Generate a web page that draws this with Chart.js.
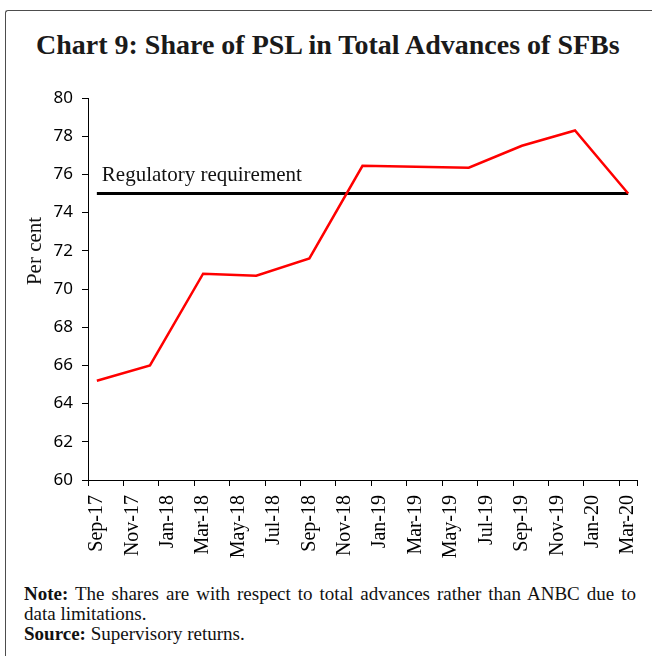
<!DOCTYPE html>
<html>
<head>
<meta charset="utf-8">
<script src="https://cdn.jsdelivr.net/npm/chart.js@4.4.1/dist/chart.umd.min.js"></script>
<style>
  html, body { margin: 0; padding: 0; background: #fff; }
  #page { position: relative; width: 652px; height: 656px; overflow: hidden;
          font-family: "Liberation Serif", serif; color: #111; }
  #frame { position: absolute; left: 5px; top: 10px; right: -10px; bottom: -10px;
           border-top: 1.5px solid #4d4d4d; border-left: 1.5px solid #4d4d4d;
           border-top-left-radius: 3px; }
  #title { position: absolute; left: 36px; top: 31px; font-size: 28px; line-height: 28px;
           font-weight: bold; white-space: nowrap; color: #1a1a1a; }
  #chartbox { position: absolute; left: 0; top: 0; width: 652px; height: 560px; }
  .note { position: absolute; left: 24px; width: 612px; font-size: 19px; line-height: 20px; white-space: nowrap; }
  .just { text-align: justify; text-align-last: justify; }
</style>
</head>
<body>
<div id="page">
  <div id="frame"></div>
  <div id="title">Chart 9: Share of PSL in Total Advances of SFBs</div>
  <div id="chartbox"><canvas id="c"></canvas></div>
  <div class="note just" style="top:584px"><b>Note:</b> The shares are with respect to total advances rather than ANBC due to</div>
  <div class="note" style="top:604px">data limitations.</div>
  <div class="note" style="top:624px"><b>Source:</b> Supervisory returns.</div>
</div>
<script>
// ── data ──────────────────────────────────────────────────────────────────────
// monthly category axis, every other month labelled
var months = ["Sep-17","Oct-17","Nov-17","Dec-17","Jan-18","Feb-18","Mar-18","Apr-18",
  "May-18","Jun-18","Jul-18","Aug-18","Sep-18","Oct-18","Nov-18","Dec-18","Jan-19",
  "Feb-19","Mar-19","Apr-19","May-19","Jun-19","Jul-19","Aug-19","Sep-19","Oct-19",
  "Nov-19","Dec-19","Jan-20","Feb-20","Mar-20"];
// quarterly observations (per cent)
var quarters = ["Sep-17","Dec-17","Mar-18","Jun-18","Sep-18","Dec-18","Mar-19","Jun-19","Sep-19","Dec-19","Mar-20"];
var pslShare = [65.2, 66.0, 70.8, 70.7, 71.6, 76.45, 76.4, 76.35, 77.5, 78.3, 75.0];
var REQUIREMENT = 75;
var REQ_LABEL = "Regulatory requirement";
var Y_TITLE = "Per cent";

// ── helpers ───────────────────────────────────────────────────────────────────
function points(keys, vals) {
  return keys.map(function (k, i) { return { x: k, y: vals[i] }; });
}

// text annotations: requirement label and the y-axis title
var annotate = {
  id: "annotate",
  afterDatasetsDraw: function (chart) {
    var xs = chart.scales.x, ys = chart.scales.y, ctx = chart.ctx, area = chart.chartArea;
    ctx.save();
    ctx.fillStyle = "#111";
    ctx.font = '21px "Liberation Serif"';
    ctx.textBaseline = "alphabetic";
    ctx.textAlign = "left";
    ctx.fillText(REQ_LABEL, xs.getPixelForValue(0) + 5, ys.getPixelForValue(REQUIREMENT) - 13);
    ctx.translate(area.left - 47.5, area.top + 153);
    ctx.rotate(-Math.PI / 2);
    ctx.textAlign = "center";
    ctx.fillText(Y_TITLE, 0, 0);
    ctx.restore();
  }
};

new Chart(document.getElementById("c").getContext("2d"), {
  type: "line",
  data: {
    labels: months,
    datasets: [
      { label: "PSL share", data: points(quarters, pslShare), borderColor: "#ff0000",
        borderWidth: 2.5, pointRadius: 0, tension: 0, order: 0 },
      { label: REQ_LABEL,
        data: points([quarters[0], quarters[quarters.length - 1]], [REQUIREMENT, REQUIREMENT]),
        borderColor: "#000", borderWidth: 3, pointRadius: 0, order: 1 }
    ]
  },
  options: {
    responsive: true, maintainAspectRatio: false, animation: false,
    layout: { padding: { left: 0, top: 98, right: 15, bottom: 0 } },
    plugins: { legend: { display: false }, tooltip: { enabled: false }, title: { display: false } },
    scales: {
      x: {
        type: "category", offset: true,
        afterFit: function (s) { s.height = 80; s.paddingLeft = 0; s.paddingRight = 0; },
        border: { color: "#000", width: 1 },
        grid: { offset: true, drawOnChartArea: false, tickLength: 6,
                tickColor: function (c) { return c.index % 2 ? "rgba(0,0,0,0)" : "#000"; } },
        ticks: {
          autoSkip: false, maxRotation: 90, minRotation: 90, padding: 9, color: "#000",
          font: { family: "Liberation Serif", size: 20 },
          callback: function (v, i) { return i % 2 ? "" : this.getLabelForValue(v); }
        }
      },
      y: {
        min: 60, max: 80,
        afterFit: function (s) { s.width = 88; },
        border: { color: "#000", width: 1 },
        grid: { drawOnChartArea: false, tickLength: 6, tickColor: "#000" },
        ticks: { stepSize: 2, padding: 9, color: "#000", font: { family: "Noto Sans", size: 17 } }
      }
    }
  },
  plugins: [annotate]
});
</script>
</body>
</html>
